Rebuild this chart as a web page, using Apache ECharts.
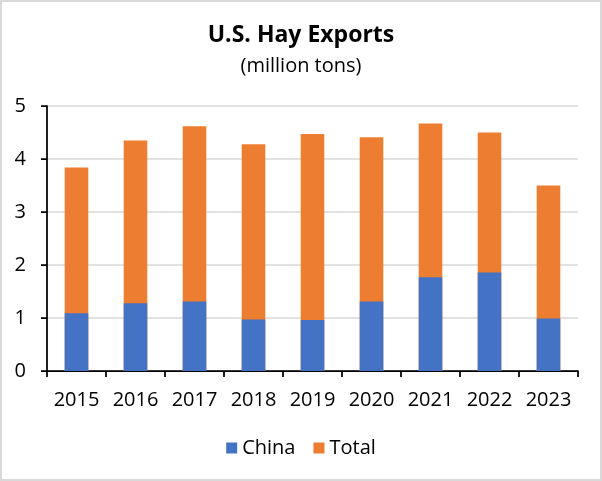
<!DOCTYPE html>
<html>
<head>
<meta charset="utf-8">
<script src="https://cdn.jsdelivr.net/npm/echarts@6/dist/echarts.min.js"></script>
<style>
  html, body { margin: 0; padding: 0; background: #fff; }
  #chart { width: 602px; height: 481px; }
</style>
</head>
<body>
<div id="chart"></div>
<script>
var years = ['2015', '2016', '2017', '2018', '2019', '2020', '2021', '2022', '2023'];
var china = [1.09, 1.28, 1.31, 0.97, 0.96, 1.31, 1.77, 1.86, 0.99];
var total = [3.84, 4.35, 4.62, 4.28, 4.47, 4.41, 4.67, 4.50, 3.50];
var yTicks = { min: 0, max: 5, interval: 1 };

var font = '"Open Sans", "Liberation Sans", sans-serif';
var chart = echarts.init(document.getElementById('chart'));

var option = {
  backgroundColor: '#fff',
  animation: false,
  graphic: [{
    type: 'rect',
    shape: { x: 1, y: 1, width: 600, height: 479 },
    style: { fill: 'none', stroke: '#d9d9d9', lineWidth: 2 },
    silent: true
  }],
  title: {
    text: 'U.S. Hay Exports',
    subtext: '(million tons)',
    left: 'center',
    top: 20,
    padding: 0,
    itemGap: 3,
    textStyle: { fontFamily: font, fontSize: 23, fontWeight: 'bold', color: '#000', lineHeight: 30 },
    subtextStyle: { fontFamily: font, fontSize: 20, color: '#000', lineHeight: 26 }
  },
  legend: {
    data: ['China', 'Total'],
    top: 438,
    left: 'center',
    padding: 0,
    icon: 'rect',
    itemWidth: 11,
    itemHeight: 11,
    itemGap: 18,
    textStyle: { fontFamily: font, fontSize: 20, color: '#000' }
  },
  grid: { left: 47, right: 24, top: 106, bottom: 110, containLabel: false },
  xAxis: {
    type: 'category',
    data: years,
    axisLine: { lineStyle: { color: '#000', width: 1.75 } },
    axisTick: { show: true, interval: 0, length: 6, lineStyle: { color: '#000', width: 1.75 } },
    axisLabel: { interval: 0, fontFamily: font, fontSize: 20, color: '#000', margin: 19 }
  },
  yAxis: {
    type: 'value',
    min: yTicks.min,
    max: yTicks.max,
    interval: yTicks.interval,
    axisLine: { show: true, lineStyle: { color: '#000', width: 1.75 } },
    axisTick: { show: true, length: 6, lineStyle: { color: '#000', width: 1.75 } },
    axisLabel: { fontFamily: font, fontSize: 20, color: '#000', margin: 21 },
    splitLine: { lineStyle: { color: '#d9d9d9', width: 1.5 } }
  },
  series: [
    {
      name: 'Total',
      type: 'bar',
      data: total,
      barWidth: '40%',
      barGap: '-100%',
      itemStyle: { color: '#ED7D31' }
    },
    {
      name: 'China',
      type: 'bar',
      data: china,
      barWidth: '40%',
      barGap: '-100%',
      itemStyle: { color: '#4472C4' }
    }
  ]
};

chart.setOption(option);
</script>
</body>
</html>
